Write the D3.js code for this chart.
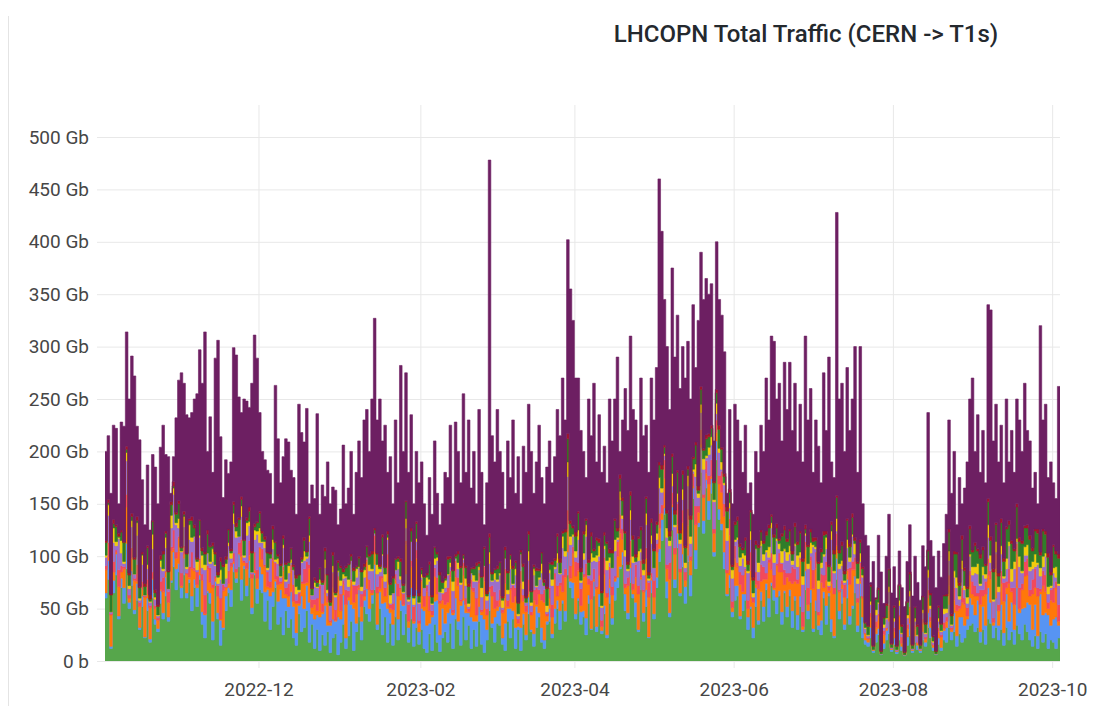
<!DOCTYPE html>
<html>
<head>
<meta charset="utf-8">
<script src="https://cdn.jsdelivr.net/npm/d3@7"></script>
<style>
  html, body { margin: 0; padding: 0; background: #fff; }
  svg { display: block; font-family: Roboto, "Noto Sans", sans-serif; }
</style>
</head>
<body>
<div id="chart"></div>
<script>
// daily traffic CERN -> T1s, Gb, starting 2022-10-03
const totalGb = [
  200, 215, 160, 225, 222, 150, 228, 224, 314, 250,
  291, 272, 224, 211, 173, 130, 187, 125, 197, 185,
  150, 204, 225, 197, 195, 160, 195, 232, 268, 275,
  265, 235, 232, 237, 250, 255, 297, 265, 314, 200,
  233, 180, 289, 306, 214, 156, 192, 179, 190, 299,
  292, 252, 237, 250, 248, 242, 265, 311, 289, 237,
  200, 192, 182, 179, 150, 263, 212, 170, 195, 212, 209,
  182, 175, 140, 245, 218, 209, 241, 150, 168, 155,
  236, 140, 168, 157, 190, 150, 166, 163, 130, 145,
  206, 150, 165, 200, 140, 180, 210, 175, 230, 240,
  200, 250, 327, 230, 250, 210, 225, 180, 195, 150,
  230, 170, 282, 200, 275, 180, 235, 150, 200, 170,
  190, 150, 120, 175, 140, 210, 160, 130, 150, 180,
  175, 225, 150, 228, 200, 170, 255, 180, 230, 165,
  200, 150, 240, 180, 130, 170, 478, 215, 190, 240,
  200, 180, 145, 210, 175, 230, 160, 195, 150, 205,
  180, 245, 200, 160, 190, 225, 175, 150, 185, 210,
  170, 195, 240, 215, 270, 230, 402, 355, 325, 270,
  270, 220, 200, 175, 250, 215, 265, 190, 235, 180,
  205, 170, 250, 210, 250, 290, 200, 230, 260, 220, 310,
  240, 230, 190, 270, 215, 225, 180, 270, 230, 280,
  460, 410, 345, 300, 240, 375, 290, 330, 260, 300,
  270, 305, 250, 340, 280, 325, 390, 345, 365, 350,
  360, 210, 400, 345, 330, 295, 160, 240, 150, 245,
  230, 210, 180, 225, 160, 170, 140, 200, 180, 225,
  200, 270, 230, 310, 305, 250, 265, 210, 285, 240,
  285, 220, 265, 200, 245, 190, 310, 230, 260, 180,
  230, 205, 170, 275, 220, 290, 190, 175, 428, 250,
  265, 200, 280, 220, 250, 300, 180, 300, 150, 120,
  110, 75, 95, 60, 120, 85, 55, 100, 140, 65,
  90, 60, 105, 70, 52, 95, 130, 62, 100, 75,
  58, 110, 90, 237, 115, 100, 70, 105, 80, 112,
  140, 230, 160, 200, 130, 175, 150, 165, 190, 250, 270,
  200, 235, 180, 220, 170, 340, 335, 210, 245, 190,
  225, 170, 250, 190, 220, 180, 250, 230, 200, 265,
  220, 210, 165, 180, 150, 320, 230, 245, 175, 190,
  170, 155, 262
];

const greenGb = [
  60, 78, 12, 65, 82, 40, 70, 55, 88, 50,
  72, 45, 58, 30, 52, 22, 48, 18, 60, 35,
  28, 55, 40, 62, 38, 75, 90, 68, 85, 60,
  82, 60, 75, 48, 70, 52, 78, 35, 22, 65,
  55, 20, 72, 40, 15, 30, 48, 65, 52, 85,
  75, 90, 58, 88, 62, 80, 45, 82, 55, 68,
  65, 38, 58, 30, 52, 70, 35, 42, 25, 48, 32,
  40, 22, 15, 45, 28, 32, 48, 18, 35, 12,
  30, 10, 25, 15, 28, 8, 22, 26, 6, 18,
  35, 12, 24, 38, 10, 28, 42, 20, 52, 45,
  38, 55, 68, 30, 50, 25, 42, 18, 36, 15,
  42, 20, 48, 25, 45, 18, 40, 14, 32, 16,
  30, 12, 8, 26, 10, 35, 18, 9, 22, 28,
  18, 36, 12, 40, 30, 15, 42, 20, 34, 12,
  30, 14, 38, 16, 8, 20, 48, 32, 18, 36,
  34, 16, 10, 38, 22, 40, 12, 30, 10, 35,
  20, 45, 28, 14, 32, 42, 18, 12, 35, 38,
  22, 36, 50, 30, 55, 38, 82, 70, 60, 40,
  58, 35, 42, 25, 55, 30, 62, 28, 52, 26,
  45, 22, 55, 35, 58, 70, 88, 92, 48, 40, 75,
  60, 42, 28, 68, 38, 52, 22, 65, 40, 70,
  95, 115, 140, 60, 42, 125, 70, 108, 62, 90,
  55, 95, 62, 155, 88, 128, 180, 122, 165, 135,
  160, 100, 192, 135, 125, 88, 62, 70, 42, 58,
  62, 40, 48, 58, 30, 50, 22, 52, 35, 58,
  38, 68, 42, 72, 58, 45, 62, 35, 65, 42,
  62, 32, 58, 30, 52, 28, 68, 40, 56, 28,
  48, 30, 25, 60, 35, 62, 28, 22, 78, 40,
  55, 30, 60, 35, 50, 65, 28, 62, 22, 16,
  14, 22, 8, 18, 25, 6, 12, 20, 26, 9,
  16, 7, 20, 10, 5, 15, 24, 8, 18, 11,
  8, 20, 14, 32, 22, 10, 6, 16, 10, 20,
  18, 32, 20, 28, 14, 26, 18, 22, 30, 34, 36,
  28, 32, 18, 30, 16, 40, 36, 22, 32, 20,
  30, 15, 32, 20, 28, 16, 34, 26, 20, 35,
  28, 20, 14, 24, 12, 28, 18, 26, 12, 20,
  18, 12, 22
];

const blueGb = [
  5, 18, 2, 12, 20, 3, 9, 15, 24, 6,
  14, 4, 16, 2, 10, 1, 12, 3, 18, 5,
  3, 12, 6, 18, 4, 2, 14, 20, 8, 10,
  16, 5, 3, 14, 8, 18, 4, 12, 22, 2,
  10, 18, 4, 6, 24, 2, 14, 5, 16, 8,
  4, 12, 20, 3, 10, 16, 6, 2, 14, 22,
  18, 28, 10, 32, 14, 6, 22, 26, 35, 12, 20,
  26, 30, 12, 8, 34, 18, 24, 38, 10, 28,
  14, 32, 20, 38, 6, 26, 18, 12, 36, 22,
  28, 10, 34, 16, 40, 8, 26, 18, 6, 24,
  12, 8, 24, 5, 16, 30, 14, 32, 10, 20,
  32, 20, 10, 28, 38, 14, 30, 22, 36, 12,
  20, 36, 26, 10, 32, 22, 40, 16, 28, 8,
  28, 14, 32, 20, 8, 38, 16, 26, 12, 30,
  8, 24, 14, 28, 32, 10, 18, 4, 24, 12,
  18, 6, 26, 12, 28, 8, 20, 3, 22, 10,
  5, 16, 2, 12, 20, 4, 14, 8, 3, 12,
  4, 14, 8, 18, 3, 10, 22, 6, 15, 5,
  2, 12, 6, 16, 8, 1, 14, 5, 12, 3,
  8, 3, 15, 6, 18, 10, 2, 12, 16, 6, 14,
  4, 14, 2, 10, 8, 16, 1, 12, 5, 10,
  12, 20, 6, 16, 4, 22, 8, 14, 3, 12,
  16, 6, 20, 10, 18, 4, 24, 12, 8, 18,
  14, 4, 18, 10, 6, 16, 2, 12, 5, 14,
  10, 3, 16, 6, 12, 2, 10, 18, 4, 8,
  14, 6, 18, 3, 10, 16, 5, 12, 2, 10,
  6, 16, 4, 14, 10, 2, 18, 8, 12, 3,
  10, 4, 14, 6, 18, 3, 12, 2, 20, 8,
  14, 5, 18, 8, 3, 16, 6, 12, 20, 4,
  4, 10, 2, 8, 6, 1, 5, 9, 12, 2,
  6, 2, 10, 4, 1, 8, 12, 2, 6, 4,
  2, 8, 4, 14, 10, 3, 1, 6, 3, 9,
  14, 22, 8, 18, 10, 16, 24, 12, 10, 26, 18,
  16, 26, 10, 22, 18, 30, 20, 12, 28, 14,
  24, 12, 32, 18, 28, 14, 36, 20, 30, 16,
  28, 34, 16, 30, 12, 36, 26, 20, 32, 14,
  22, 30, 12
];

const orangeGb = [
  22, 3, 30, 8, 2, 28, 6, 18, 35, 4,
  12, 28, 2, 20, 6, 38, 4, 30, 1, 10,
  8, 1, 20, 5, 14, 28, 3, 10, 24, 2,
  4, 18, 2, 26, 8, 3, 14, 30, 1, 20,
  10, 32, 3, 16, 1, 35, 8, 4, 22, 2,
  6, 1, 22, 3, 16, 5, 28, 2, 10, 18,
  14, 24, 3, 8, 30, 2, 16, 6, 26, 4, 10,
  20, 5, 28, 2, 12, 24, 3, 32, 6, 14,
  4, 26, 2, 12, 22, 3, 30, 1, 36, 8,
  10, 32, 3, 22, 6, 28, 2, 14, 4, 26,
  18, 2, 12, 30, 3, 24, 6, 34, 4, 14,
  3, 22, 10, 1, 28, 6, 20, 2, 30, 8,
  26, 4, 32, 12, 2, 24, 6, 30, 8, 18,
  10, 30, 2, 20, 34, 4, 24, 8, 1, 26,
  28, 6, 22, 3, 36, 14, 2, 26, 8, 4,
  6, 24, 38, 2, 18, 8, 30, 3, 42, 12,
  22, 3, 14, 32, 2, 18, 26, 36, 5, 10,
  16, 28, 4, 24, 8, 32, 20, 3, 28, 36,
  26, 6, 32, 40, 10, 28, 2, 36, 18, 4,
  30, 36, 8, 22, 3, 20, 32, 12, 6, 26, 10,
  4, 24, 34, 2, 20, 30, 38, 3, 16, 24,
  20, 6, 28, 12, 32, 2, 24, 8, 20, 30,
  6, 28, 14, 2, 24, 10, 3, 22, 6, 16,
  2, 18, 8, 24, 30, 34, 20, 38, 4, 26,
  18, 30, 2, 22, 8, 34, 24, 3, 30, 10,
  26, 4, 34, 12, 2, 30, 18, 38, 6, 28,
  8, 26, 14, 30, 34, 3, 20, 6, 28, 38,
  30, 10, 36, 4, 24, 2, 34, 40, 12, 18,
  4, 26, 8, 30, 34, 6, 22, 2, 18, 6,
  3, 10, 1, 6, 12, 0, 8, 2, 10, 1,
  6, 1, 12, 3, 0, 8, 14, 1, 6, 2,
  1, 8, 3, 14, 6, 2, 0, 6, 10, 2,
  6, 18, 2, 12, 24, 8, 14, 20, 3, 22, 10,
  18, 4, 26, 10, 30, 12, 22, 3, 28, 14,
  20, 30, 6, 36, 10, 24, 32, 4, 18, 30,
  26, 8, 34, 16, 38, 2, 28, 20, 6, 24,
  16, 28, 4
];

const redGb = [
  4, 14, 1, 10, 2, 16, 6, 2, 12, 3,
  10, 2, 16, 4, 8, 1, 14, 2, 6, 3,
  2, 8, 14, 1, 10, 4, 18, 6, 2, 12,
  8, 1, 10, 16, 3, 12, 2, 6, 18, 4,
  14, 3, 2, 10, 20, 6, 1, 12, 4, 8,
  3, 10, 16, 2, 6, 14, 4, 18, 8, 1,
  10, 2, 14, 6, 3, 16, 8, 2, 4, 6, 12,
  6, 16, 3, 10, 2, 14, 20, 4, 8, 5,
  12, 4, 8, 18, 6, 2, 14, 10, 3, 16,
  4, 14, 6, 2, 16, 8, 3, 12, 6, 2,
  10, 3, 16, 6, 12, 2, 8, 18, 4, 6,
  6, 12, 2, 10, 4, 16, 6, 14, 8, 3,
  2, 10, 6, 14, 4, 8, 16, 3, 6, 12,
  14, 6, 3, 16, 8, 2, 12, 6, 3, 10,
  4, 16, 10, 2, 14, 6, 3, 10, 16, 6,
  10, 3, 14, 6, 2, 16, 8, 4, 12, 6,
  6, 14, 3, 10, 16, 4, 6, 12, 2, 10,
  12, 6, 10, 3, 16, 8, 20, 12, 6, 14,
  8, 16, 3, 12, 6, 18, 10, 2, 14, 6,
  16, 4, 12, 8, 2, 14, 18, 10, 4, 8, 16,
  6, 12, 8, 16, 2, 10, 14, 4, 16, 8,
  14, 8, 18, 4, 16, 12, 6, 20, 3, 12,
  8, 16, 4, 12, 18, 6, 14, 3, 12, 8,
  16, 4, 12, 8, 20, 12, 3, 16, 6, 12,
  4, 12, 16, 2, 8, 18, 4, 12, 8, 16,
  12, 6, 3, 16, 12, 2, 18, 8, 14, 4,
  8, 16, 12, 4, 2, 14, 8, 16, 4, 18,
  16, 3, 8, 12, 18, 4, 16, 6, 12, 2,
  4, 12, 2, 16, 8, 12, 4, 18, 2, 1,
  1, 4, 0, 6, 2, 0, 4, 1, 6, 0,
  4, 0, 2, 6, 0, 4, 2, 0, 4, 1,
  0, 4, 2, 8, 4, 1, 0, 4, 2, 6,
  4, 10, 2, 12, 6, 3, 14, 6, 8, 4, 12,
  10, 3, 14, 6, 12, 16, 8, 4, 14, 6,
  12, 18, 6, 14, 4, 16, 10, 20, 6, 14,
  16, 6, 14, 18, 8, 3, 14, 16, 6, 10,
  14, 6, 16
];

const lavenderGb = [
  8, 26, 2, 18, 4, 30, 12, 3, 32, 6,
  20, 4, 28, 2, 16, 1, 10, 3, 22, 6,
  2, 14, 6, 22, 3, 18, 34, 26, 8, 20,
  18, 4, 26, 10, 30, 2, 20, 6, 24, 12,
  4, 22, 10, 2, 18, 1, 8, 24, 4, 28,
  30, 6, 22, 3, 26, 14, 2, 12, 34, 4,
  6, 16, 2, 22, 8, 1, 12, 4, 18, 6, 10,
  2, 14, 6, 1, 18, 8, 3, 22, 4, 12,
  10, 2, 18, 6, 3, 14, 1, 12, 4, 8,
  2, 12, 4, 18, 1, 8, 16, 3, 12, 2,
  8, 18, 2, 12, 4, 20, 6, 14, 1, 10,
  4, 14, 8, 1, 12, 3, 18, 2, 8, 16,
  2, 8, 1, 14, 6, 3, 16, 8, 1, 4,
  12, 4, 18, 2, 8, 14, 3, 12, 2, 6,
  6, 16, 3, 12, 1, 8, 22, 4, 12, 18,
  14, 2, 10, 6, 18, 1, 12, 3, 16, 6,
  3, 18, 6, 14, 1, 10, 20, 4, 2, 14,
  18, 4, 22, 8, 26, 12, 32, 20, 10, 4,
  22, 6, 14, 26, 3, 18, 8, 24, 4, 12,
  8, 22, 4, 18, 24, 2, 14, 10, 26, 6, 20,
  20, 3, 24, 8, 14, 22, 2, 28, 12, 4,
  24, 12, 4, 26, 16, 6, 20, 2, 24, 10,
  4, 22, 12, 2, 28, 8, 16, 24, 3, 20,
  14, 26, 6, 22, 2, 18, 28, 10, 22, 4,
  22, 6, 16, 2, 26, 12, 1, 22, 8, 18,
  6, 20, 2, 24, 12, 22, 4, 1, 18, 12,
  18, 2, 22, 12, 1, 26, 6, 18, 3, 22,
  3, 22, 6, 18, 12, 1, 26, 14, 2, 20,
  14, 2, 20, 6, 24, 3, 14, 1, 18, 4,
  2, 8, 0, 6, 10, 0, 3, 8, 12, 1,
  6, 1, 9, 3, 0, 6, 10, 1, 4, 6,
  1, 6, 3, 12, 8, 2, 0, 6, 3, 8,
  4, 14, 2, 10, 16, 6, 18, 8, 4, 14, 6,
  12, 18, 4, 14, 3, 20, 8, 16, 2, 12,
  16, 4, 12, 22, 6, 18, 2, 20, 10, 6,
  3, 18, 10, 2, 22, 12, 4, 18, 8, 2,
  14, 4, 18
];

const yellowGb = [
  2, 10, 0, 14, 4, 1, 12, 2, 8, 3,
  6, 0, 12, 2, 9, 0, 4, 1, 14, 2,
  1, 6, 2, 10, 0, 12, 6, 2, 9, 1,
  10, 2, 14, 4, 0, 8, 2, 12, 5, 0,
  2, 12, 1, 6, 9, 0, 14, 3, 5, 10,
  6, 0, 10, 2, 12, 4, 0, 9, 3, 14,
  1, 6, 2, 0, 9, 2, 5, 1, 3, 2, 7,
  3, 0, 7, 2, 1, 9, 2, 6, 0, 4,
  1, 4, 0, 8, 3, 0, 6, 2, 1, 5,
  4, 1, 7, 0, 3, 8, 1, 4, 7, 0,
  6, 2, 0, 9, 3, 1, 7, 2, 8, 0,
  0, 7, 3, 1, 9, 2, 0, 6, 3, 1,
  3, 0, 7, 2, 1, 6, 3, 0, 4, 7,
  1, 4, 9, 0, 6, 2, 1, 7, 3, 0,
  6, 1, 3, 9, 0, 4, 11, 1, 6, 2,
  2, 7, 0, 4, 9, 1, 6, 2, 0, 7,
  0, 9, 3, 6, 1, 2, 9, 0, 6, 3,
  6, 2, 9, 1, 11, 5, 14, 8, 2, 6,
  9, 2, 6, 11, 0, 8, 3, 6, 10, 2,
  3, 9, 5, 0, 11, 2, 8, 3, 6, 2, 9,
  6, 0, 9, 3, 5, 11, 2, 8, 0, 6,
  10, 4, 2, 9, 5, 12, 2, 8, 4, 10,
  5, 10, 7, 2, 12, 4, 8, 10, 2, 7,
  8, 2, 10, 4, 7, 2, 12, 5, 8, 2,
  2, 8, 5, 11, 2, 8, 4, 0, 9, 5,
  6, 2, 10, 5, 8, 2, 5, 11, 2, 8,
  8, 4, 2, 11, 5, 8, 2, 5, 10, 2,
  2, 8, 5, 2, 11, 4, 8, 2, 12, 5,
  5, 2, 8, 4, 2, 10, 5, 8, 2, 1,
  1, 3, 0, 5, 1, 0, 3, 1, 5, 0,
  3, 0, 5, 1, 0, 3, 5, 0, 3, 1,
  0, 3, 1, 7, 3, 1, 0, 3, 1, 5,
  4, 9, 1, 6, 10, 3, 8, 4, 6, 2, 8,
  6, 10, 2, 8, 4, 12, 7, 2, 10, 5,
  8, 2, 10, 4, 12, 7, 3, 10, 2, 8,
  10, 4, 7, 12, 2, 8, 10, 3, 7, 2,
  5, 10, 2
];

const darkGreenGb = [
  12, 2, 16, 4, 14, 1, 8, 18, 3, 10,
  4, 14, 2, 10, 1, 8, 16, 2, 12, 4,
  8, 1, 14, 4, 16, 10, 2, 8, 14, 3,
  2, 12, 4, 16, 8, 2, 14, 4, 10, 18,
  14, 3, 10, 2, 8, 16, 4, 12, 2, 8,
  4, 16, 6, 14, 2, 10, 18, 3, 8, 14,
  8, 2, 14, 4, 10, 16, 2, 10, 6, 14, 3,
  10, 3, 8, 14, 2, 10, 4, 16, 6, 2,
  4, 10, 2, 8, 14, 3, 10, 2, 8, 12,
  2, 8, 14, 4, 10, 2, 8, 14, 3, 10,
  8, 14, 3, 10, 2, 16, 6, 3, 10, 14,
  10, 3, 14, 6, 16, 2, 10, 2, 14, 6,
  4, 10, 2, 14, 6, 10, 3, 16, 6, 2,
  14, 4, 10, 2, 8, 14, 3, 10, 16, 4,
  6, 14, 3, 10, 16, 2, 14, 6, 3, 10,
  10, 2, 8, 16, 4, 14, 6, 10, 2, 14,
  4, 16, 10, 2, 14, 6, 10, 3, 16, 6,
  14, 6, 16, 10, 3, 18, 22, 12, 6, 14,
  16, 8, 18, 4, 12, 16, 6, 14, 3, 12,
  10, 16, 4, 14, 18, 6, 12, 14, 16, 4, 14,
  16, 4, 12, 18, 6, 14, 3, 12, 16, 8,
  12, 18, 6, 14, 4, 16, 10, 20, 6, 14,
  14, 6, 16, 10, 18, 3, 14, 8, 16, 10,
  8, 16, 10, 18, 12, 6, 16, 10, 3, 14,
  16, 10, 3, 14, 6, 18, 12, 4, 14, 8,
  10, 14, 18, 6, 16, 10, 3, 14, 18, 10,
  14, 6, 16, 10, 18, 14, 4, 16, 10, 3,
  6, 16, 10, 18, 3, 14, 6, 16, 20, 10,
  14, 6, 18, 10, 16, 3, 14, 10, 6, 4,
  8, 14, 3, 10, 12, 2, 6, 12, 16, 3,
  10, 3, 14, 6, 2, 12, 16, 3, 10, 8,
  3, 12, 8, 18, 10, 4, 2, 10, 6, 12,
  12, 18, 8, 16, 22, 10, 20, 14, 8, 24, 14,
  20, 12, 24, 16, 8, 22, 14, 26, 16, 10,
  22, 14, 28, 16, 24, 10, 30, 14, 26, 18,
  16, 26, 10, 22, 28, 12, 24, 18, 28, 10,
  20, 12, 24
];

const darkRedGb = [
  2, 3, 1, 4, 2, 3, 2, 1, 3, 2,
  3, 2, 4, 1, 2, 3, 2, 4, 1, 3,
  2, 4, 3, 2, 1, 3, 4, 2, 3, 1,
  3, 1, 2, 4, 3, 2, 1, 3, 2, 4,
  1, 3, 2, 3, 4, 2, 3, 1, 2, 3,
  4, 2, 3, 1, 3, 4, 2, 3, 1, 2,
  2, 3, 1, 2, 3, 1, 2, 2, 3, 2, 1,
  1, 2, 3, 1, 2, 3, 1, 2, 1, 3,
  2, 1, 2, 3, 1, 2, 3, 1, 2, 2,
  3, 2, 1, 2, 3, 1, 2, 2, 3, 1,
  2, 3, 2, 1, 2, 3, 1, 3, 2, 2,
  1, 2, 3, 2, 1, 2, 3, 1, 2, 3,
  2, 1, 2, 3, 2, 1, 2, 3, 1, 2,
  3, 2, 1, 2, 3, 2, 1, 2, 3, 1,
  2, 3, 2, 1, 2, 3, 4, 2, 1, 3,
  1, 2, 3, 2, 1, 3, 2, 1, 2, 3,
  2, 3, 1, 2, 3, 2, 1, 3, 2, 1,
  3, 2, 3, 4, 2, 3, 5, 3, 2, 4,
  2, 4, 3, 2, 3, 4, 2, 3, 4, 2,
  3, 2, 4, 3, 2, 3, 4, 3, 2, 3, 4,
  4, 3, 2, 3, 4, 2, 3, 4, 2, 3,
  3, 4, 2, 3, 5, 3, 4, 2, 3, 4,
  2, 3, 4, 2, 3, 4, 3, 2, 4, 3,
  3, 2, 3, 4, 2, 3, 4, 3, 2, 3,
  4, 3, 2, 3, 4, 2, 3, 4, 3, 2,
  3, 4, 3, 2, 3, 4, 2, 3, 4, 3,
  2, 3, 4, 3, 2, 3, 4, 2, 3, 4,
  3, 2, 3, 4, 3, 2, 3, 4, 2, 3,
  4, 3, 2, 3, 4, 3, 2, 3, 2, 1,
  1, 2, 1, 1, 2, 1, 1, 2, 1, 1,
  2, 1, 1, 2, 1, 1, 2, 1, 1, 2,
  1, 1, 2, 1, 2, 1, 1, 2, 1, 1,
  2, 3, 2, 3, 2, 3, 4, 3, 2, 3, 2,
  3, 2, 4, 3, 2, 3, 4, 3, 2, 3,
  4, 3, 2, 4, 3, 2, 3, 4, 3, 2,
  3, 4, 3, 2, 4, 3, 2, 3, 4, 3,
  2, 3, 4
];

const lowerSeries = [
  { key: "green", values: greenGb, color: "#56a64b" },
  { key: "blue", values: blueGb, color: "#5794f2" },
  { key: "orange", values: orangeGb, color: "#ff780a" },
  { key: "red", values: redGb, color: "#f2495c" },
  { key: "lavender", values: lavenderGb, color: "#9a6fcb" },
  { key: "yellow", values: yellowGb, color: "#f2cc0c" },
  { key: "darkgreen", values: darkGreenGb, color: "#2f7d2a" },
  { key: "darkred", values: darkRedGb, color: "#a4162a" },
];
const topSeries = { key: "purple", color: "#6d1f62" };

const yTicks = [0, 50, 100, 150, 200, 250, 300, 350, 400, 450, 500];
const xTickLabels = ["2022-12", "2023-02", "2023-04", "2023-06", "2023-08", "2023-10"];

const width = 1094;
const height = 706;
const plot = { left: 105, right: 1060, top: 105, bottom: 661 };

const n = d3.min([totalGb, ...lowerSeries.map((s) => s.values)], (a) => a.length);
const dates = d3.range(n).map((i) => new Date(2022, 9, 3 + i));

// purple = whatever is left of the total once the other links are stacked
const rows = dates.map((date, i) => {
  const row = { date };
  let sum = 0;
  lowerSeries.forEach((s) => {
    row[s.key] = s.values[i];
    sum += s.values[i];
  });
  row[topSeries.key] = Math.max(0, totalGb[i] - sum);
  return row;
});
// extend the last step to the end of its day
rows.push({ ...rows[rows.length - 1], date: new Date(2022, 9, 3 + n) });

const keys = [...lowerSeries.map((s) => s.key), topSeries.key];
const colors = [...lowerSeries.map((s) => s.color), topSeries.color];
const color = d3.scaleOrdinal().domain(keys).range(colors);

const stacked = d3.stack().keys(keys)(rows);

const x = d3
  .scaleTime()
  .domain([new Date(2022, 9, 3, 5), new Date(2023, 9, 4)])
  .range([plot.left, plot.right]);

const y = d3.scaleLinear().domain([0, 500]).range([plot.bottom, 137]);

const svg = d3
  .select("#chart")
  .append("svg")
  .attr("width", width)
  .attr("height", height)
  .attr("viewBox", `0 0 ${width} ${height}`);

// panel edge
svg
  .append("line")
  .attr("x1", 8.5)
  .attr("x2", 8.5)
  .attr("y1", 16)
  .attr("y2", height)
  .attr("stroke", "#e4e4e4");

svg
  .append("text")
  .attr("x", 806)
  .attr("y", 42)
  .attr("text-anchor", "middle")
  .style("font-size", "24px")
  .style("font-weight", 500)
  .style("fill", "#24292e")
  .text("LHCOPN Total Traffic (CERN -> T1s)");

// grid + axes
const tickDates = xTickLabels.map((s) => d3.timeParse("%Y-%m")(s));

svg
  .append("g")
  .attr("transform", `translate(0, 668)`)
  .call(
    d3
      .axisBottom(x)
      .tickValues(tickDates)
      .tickSize(-(668 - plot.top))
      .tickPadding(15)
      .tickFormat((d, i) => xTickLabels[i]),
  );

svg
  .append("g")
  .attr("transform", `translate(97, 0)`)
  .call(
    d3
      .axisLeft(y)
      .tickValues(yTicks)
      .tickSize(-(plot.right - 97))
      .tickPadding(8)
      .tickFormat((d) => (d === 0 ? "0 b" : `${d} Gb`)),
  );

svg.selectAll(".domain").remove();
svg.selectAll(".tick line").attr("stroke", "#e8e8e8").attr("stroke-width", 1);
svg
  .selectAll(".tick text")
  .style("font-family", "Roboto, sans-serif")
  .style("font-size", "19px")
  .style("fill", "#464646");

const area = d3
  .area()
  .x((d) => x(d.data.date))
  .y0((d) => y(d[0]))
  .y1((d) => y(d[1]))
  .curve(d3.curveStepAfter);

svg
  .append("defs")
  .append("clipPath")
  .attr("id", "plot-clip")
  .append("rect")
  .attr("x", plot.left)
  .attr("y", 0)
  .attr("width", plot.right - plot.left)
  .attr("height", plot.bottom);

svg
  .append("g")
  .attr("clip-path", "url(#plot-clip)")
  .selectAll("path")
  .data(stacked)
  .join("path")
  .attr("d", area)
  .attr("fill", (d) => color(d.key))
  .attr("stroke", (d) => color(d.key))
  .attr("stroke-width", 0.6);
</script>
</body>
</html>
